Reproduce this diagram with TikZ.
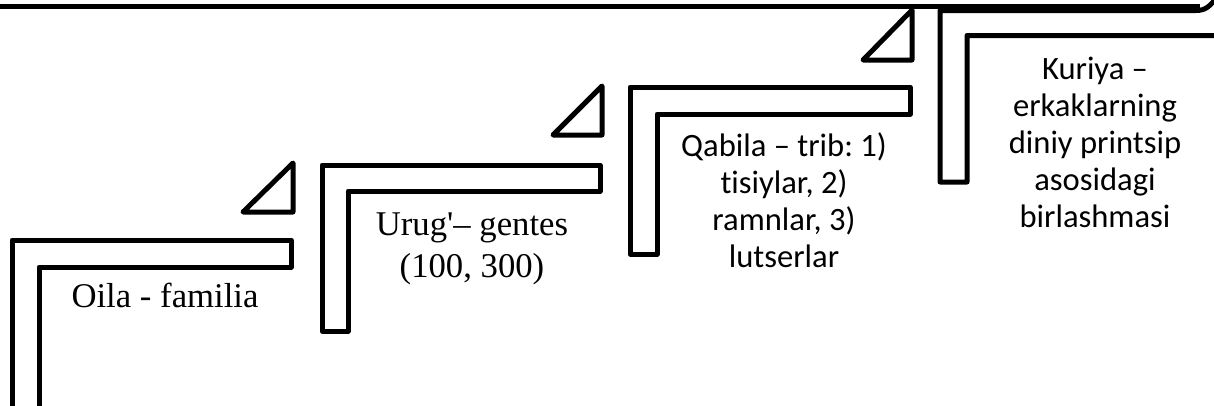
\documentclass[tikz,border=0pt]{standalone}
\usepackage{fontspec}
\newfontfamily\timesf{Liberation Serif}
\newfontfamily\calf[Ligatures=NoCommon]{Carlito}
\frenchspacing
\begin{document}
\begin{tikzpicture}[x=1pt,y=-1pt,
  stair/.style={line width=5pt, line join=round, draw=black},
  tserif/.style={font=\timesf\fontsize{34.7}{42}\selectfont, inner sep=0pt, align=center},
  tsans/.style={font=\calf\fontsize{32.6}{37}\selectfont, inner sep=0pt, align=center}]
\useasboundingbox (0,0) rectangle (1214,405);
\clip (0,0) rectangle (1214,405);
% top edge
\draw[stair] (-10,6.5) -- (1200,6.5);
% L shapes
\draw[stair] (39,420) -- (39,267) -- (291,267) -- (291,240) -- (12,240) -- (12,420);
\draw[stair] (322,331) -- (322,165) -- (600,165) -- (600,191) -- (348,191) -- (348,331) -- cycle;
\draw[stair] (630,254) -- (630,87) -- (910,87) -- (910,114) -- (657,114) -- (657,254) -- cycle;
\draw[stair] (1225,35.5) -- (967,35.5) -- (967,182) -- (940,182) -- (940,10.5) -- (1196,10.5) .. controls (1206,10.5) and (1210,6) .. (1218,-4);
% triangles
\draw[stair] (293,163) -- (293,212) -- (243,212) -- cycle;
\draw[stair] (602,86) -- (602,135) -- (553,135) -- cycle;
\draw[stair] (912,10) -- (912,60) -- (863,60) -- cycle;
% texts
\node[tserif, anchor=base] (oila) at (165,307) {Oila - familia};
\node[tserif, anchor=north] (urug) at (472,212.5) {Urug'– gentes\\(100, 300)};
\node[tsans, anchor=north] (qabila) at (784,132) {Qabila – trib: 1)\\tisiylar, 2)\\ramnlar, 3)\\lutserlar};
\node[tsans, anchor=north] (kuriya) at (1095,56.5) {Kuriya –\\erkaklarning\\diniy printsip\\asosidagi\\birlashmasi};
\end{tikzpicture}
\end{document}
